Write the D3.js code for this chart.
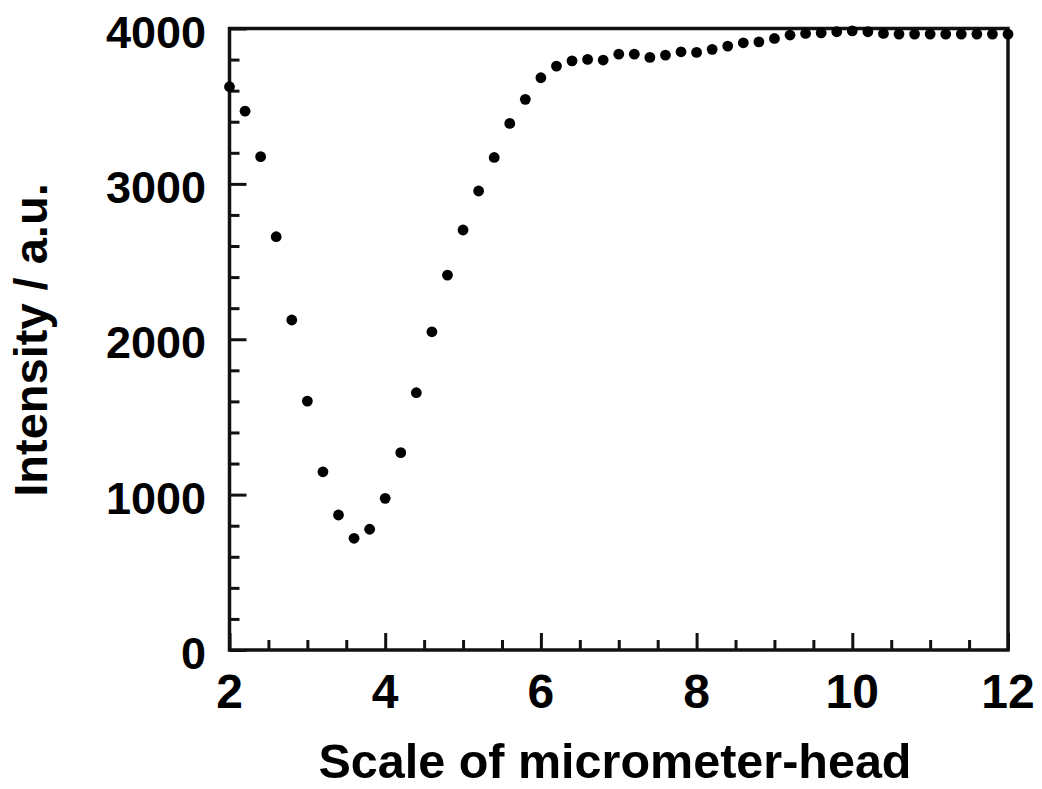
<!DOCTYPE html>
<html>
<head>
<meta charset="utf-8">
<script src="https://cdn.jsdelivr.net/npm/d3@7"></script>
<style>
  html, body { margin: 0; padding: 0; background: #fff; }
  svg { display: block; }
  text { font-family: "Liberation Sans", Arial, Helvetica, sans-serif; font-weight: bold; fill: #000; }
</style>
</head>
<body>
<svg id="chart" width="1042" height="789"></svg>
<script>
// ---- data ----
const scalePositions = [2.0, 2.2, 2.4, 2.6, 2.8, 3.0, 3.2, 3.4, 3.6, 3.8,
  4.0, 4.2, 4.4, 4.6, 4.8, 5.0, 5.2, 5.4, 5.6, 5.8,
  6.0, 6.2, 6.4, 6.6, 6.8, 7.0, 7.2, 7.4, 7.6, 7.8,
  8.0, 8.2, 8.4, 8.6, 8.8, 9.0, 9.2, 9.4, 9.6, 9.8,
  10.0, 10.2, 10.4, 10.6, 10.8, 11.0, 11.2, 11.4, 11.6, 11.8, 12.0];
const intensity = [3625, 3468, 3175, 2660, 2124, 1602, 1147, 869, 719, 777,
  976, 1270, 1656, 2048, 2413, 2703, 2954, 3170, 3389, 3544,
  3683, 3758, 3792, 3801, 3797, 3835, 3835, 3814, 3829, 3850,
  3846, 3866, 3887, 3908, 3914, 3936, 3958, 3968, 3972, 3979,
  3985, 3979, 3968, 3964, 3964, 3964, 3964, 3964, 3964, 3964, 3964];
const xTickLabels = [2, 4, 6, 8, 10, 12];
const yTickLabels = [0, 1000, 2000, 3000, 4000];
const xMinorTicks = [2.5, 3, 3.5, 4.5, 5, 5.5, 6.5, 7, 7.5, 8.5, 9, 9.5, 10.5, 11, 11.5];
const yMinorTicks = [200, 400, 600, 800, 1200, 1400, 1600, 1800, 2200, 2400, 2600, 2800, 3200, 3400, 3600, 3800];
const xTitle = "Scale of micrometer-head";
const yTitle = "Intensity / a.u.";

// ---- layout ----
const plotLeft = 229.5, plotRight = 1008, plotTop = 28.5, plotBottom = 650;
const svg = d3.select("#chart");

const x = d3.scaleLinear().domain([2, 12]).range([plotLeft, plotRight]);
const y = d3.scaleLinear().domain([0, 4000]).range([plotBottom, plotTop]);

// ticks (inward)
const minorX = d3.axisTop(x).tickValues(xMinorTicks).tickSize(10).tickFormat("");
const majorX = d3.axisTop(x).tickValues(xTickLabels).tickSize(17).tickFormat("");
const minorY = d3.axisRight(y).tickValues(yMinorTicks).tickSize(10).tickFormat("");
const majorY = d3.axisRight(y).tickValues(yTickLabels).tickSize(17).tickFormat("");

[minorX, majorX].forEach(ax => {
  const g = svg.append("g").attr("transform", `translate(0,${plotBottom})`).call(ax);
  g.select(".domain").remove();
  g.selectAll("line").attr("stroke", "#111").attr("stroke-width", 3);
});
[minorY, majorY].forEach(ax => {
  const g = svg.append("g").attr("transform", `translate(${plotLeft},0)`).call(ax);
  g.select(".domain").remove();
  g.selectAll("line").attr("stroke", "#111").attr("stroke-width", 3);
});

// frame
svg.append("rect")
  .attr("x", plotLeft).attr("y", plotTop)
  .attr("width", plotRight - plotLeft).attr("height", plotBottom - plotTop)
  .attr("fill", "none").attr("stroke", "#111").attr("stroke-width", 3.5);

// tick labels
svg.append("g").selectAll("text").data(xTickLabels).join("text")
  .attr("x", d => x(d)).attr("y", 708)
  .attr("text-anchor", "middle")
  .attr("font-size", 48)
  .text(d => d);

svg.append("g").selectAll("text").data(yTickLabels).join("text")
  .attr("x", 206).attr("y", d => y(d) + 19)
  .attr("text-anchor", "end")
  .attr("font-size", 45)
  .text(d => d);

// titles
svg.append("text")
  .attr("x", (318 + 912) / 2).attr("y", 778)
  .attr("text-anchor", "middle")
  .attr("font-size", 48.5)
  .text(xTitle);

svg.append("text")
  .attr("transform", `translate(47,340) rotate(-90)`)
  .attr("text-anchor", "middle")
  .attr("font-size", 47)
  .text(yTitle);

// points
svg.append("g").selectAll("circle").data(scalePositions).join("circle")
  .attr("cx", (d) => x(d))
  .attr("cy", (d, i) => y(intensity[i]))
  .attr("r", 5.4)
  .attr("fill", "#000");
</script>
</body>
</html>
